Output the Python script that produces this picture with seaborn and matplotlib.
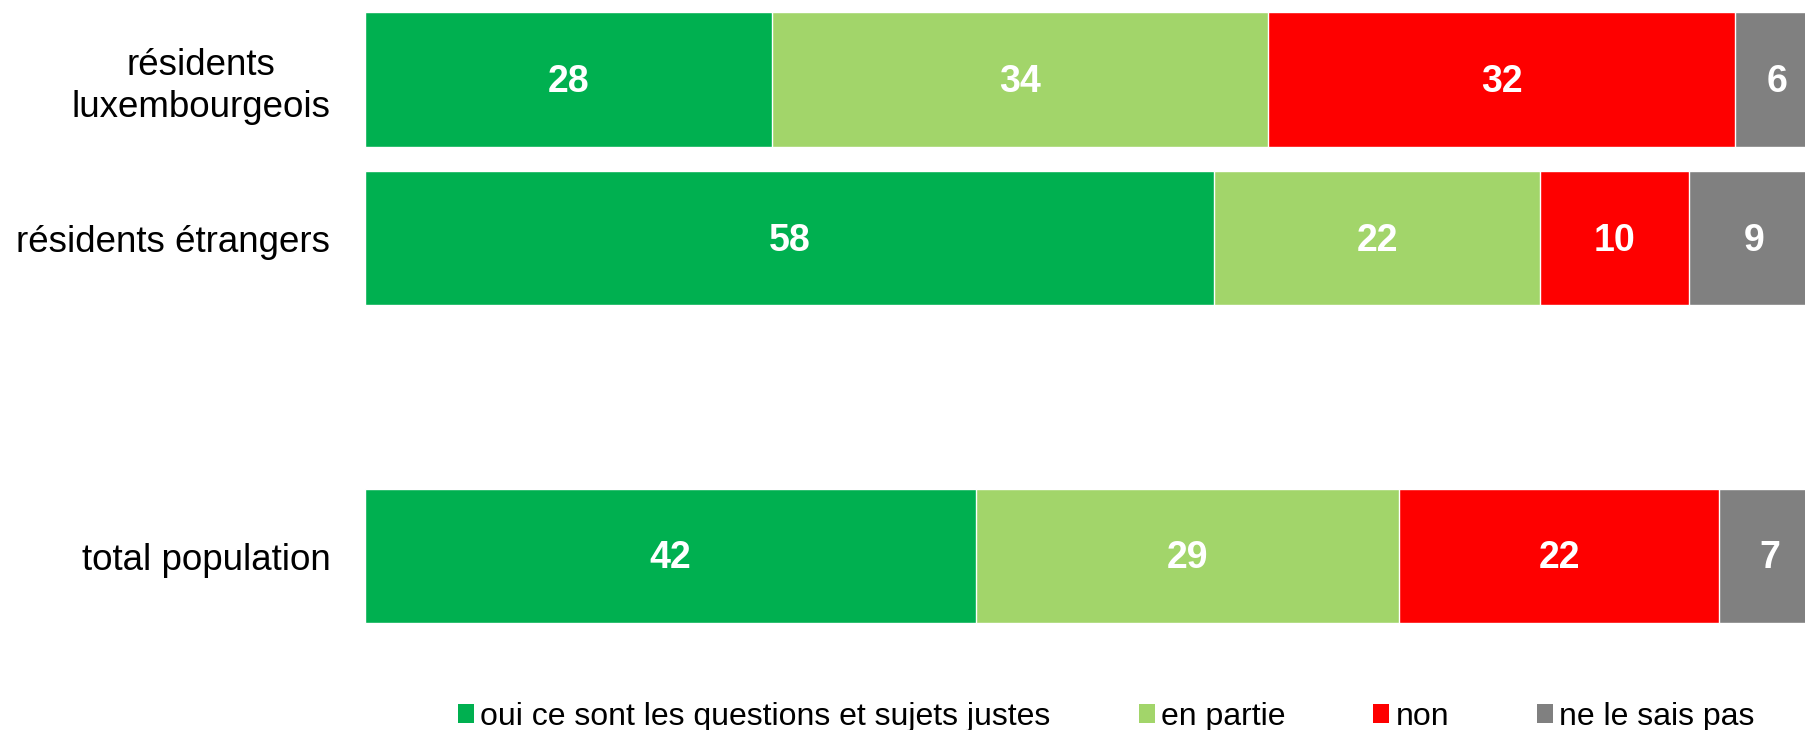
import matplotlib
matplotlib.use('Agg')
import matplotlib.pyplot as plt
import numpy as np
import pandas as pd
import seaborn as sns
from matplotlib.patches import Patch

sns.set_theme(style='white')
plt.rcParams['font.family'] = ['Liberation Sans', 'DejaVu Sans']
plt.rcParams['text.color'] = 'black'

# data
groupes = ['résidents\nluxembourgeois', 'résidents étrangers', 'total population']
reponses = ['oui ce sont les questions et sujets justes', 'en partie', 'non', 'ne le sais pas']
oui = [28.0, 58.4, 42.0]
en_partie = [34.1, 22.4, 29.1]
non = [32.1, 10.2, 22.0]
nsp = [5.8, 9.0, 6.9]
couleurs = ['#00B050', '#A2D56A', '#FE0000', '#808080']

df = pd.DataFrame({'groupe': groupes, reponses[0]: oui, reponses[1]: en_partie,
                   reponses[2]: non, reponses[3]: nsp})
ordre = [groupes[0], groupes[1], ' ', groupes[2]]

cumul = df[reponses].cumsum(axis=1)

fig = plt.figure(figsize=(18.05, 7.30), dpi=100)
ax = fig.add_axes([365 / 1805, 1 - 635.5 / 730, 1 - 365 / 1805, 635.5 / 730])

# stacked bars: draw cumulative totals from the longest to the shortest
for rep, col in zip(reponses[::-1], couleurs[::-1]):
    sns.barplot(data=cumul.assign(groupe=df['groupe']), x=rep, y='groupe', order=ordre,
                color=col, saturation=1, width=0.845, edgecolor='white', linewidth=1,
                ax=ax, orient='h')

# value labels
pos = {g: ordre.index(g) for g in groupes}
for i, g in enumerate(groupes):
    gauche = 0
    for rep in reponses:
        v = df.loc[i, rep]
        ax.text(gauche + v / 2, pos[g] + 0.015, f'{v:.0f}', ha='center', va='center',
                color='white', fontsize=27, fontweight='bold')
        gauche += v

ax.set_xlim(0, 99)
ax.set_ylim(3.5, -0.5)
ax.set_xlabel('')
ax.set_ylabel('')
ax.set_xticks([])
sns.despine(ax=ax, left=True, bottom=True)
ax.tick_params(axis='y', length=0, pad=25, labelsize=26.5, labelcolor='black')
for t in ax.get_yticklabels():
    t.set_multialignment('center')
    t.set_linespacing(1.25)

handles = [Patch(facecolor=c, edgecolor='none') for c in couleurs]
leg = fig.legend(handles, reponses, loc='center', bbox_to_anchor=(0.613, 0.018), ncol=4,
                 frameon=False, fontsize=23, handlelength=0.5, handleheight=0.5,
                 handletextpad=0.2, columnspacing=2.75, borderaxespad=0)
for t in leg.get_texts():
    t.set_color('black')

plt.savefig('out.png', dpi=100)
